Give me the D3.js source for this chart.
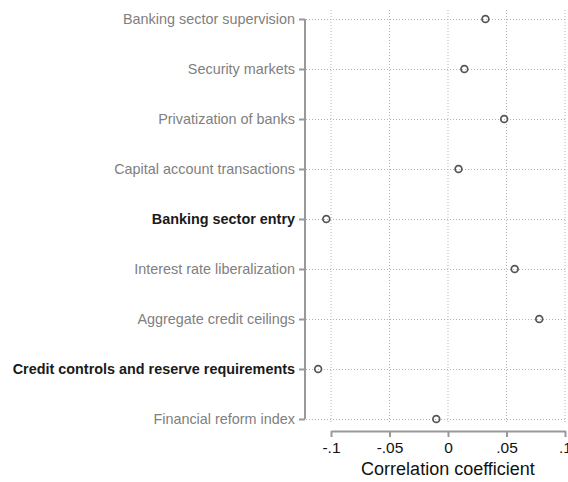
<!DOCTYPE html>
<html>
<head>
<meta charset="utf-8">
<script src="https://d3js.org/d3.v7.min.js"></script>
<style>
  html, body { margin: 0; padding: 0; background: #fff; }
  svg { display: block; font-family: "Liberation Sans", Arial, Helvetica, sans-serif; }
</style>
</head>
<body>
<svg id="chart" width="568" height="482"></svg>
<script>
// Financial reform components and their correlation coefficients
const categories = [
  "Banking sector supervision",
  "Security markets",
  "Privatization of banks",
  "Capital account transactions",
  "Banking sector entry",
  "Interest rate liberalization",
  "Aggregate credit ceilings",
  "Credit controls and reserve requirements",
  "Financial reform index"
];
const correlations = [0.032, 0.014, 0.048, 0.009, -0.104, 0.057, 0.078, -0.111, -0.010];
const boldCategories = ["Banking sector entry", "Credit controls and reserve requirements"];
const xTicks = [-0.1, -0.05, 0, 0.05, 0.1];
const xTickLabels = ["-.1", "-.05", "0", ".05", ".1"];
const xTitle = "Correlation coefficient";

const svg = d3.select("#chart");
const rows = categories.map((c, i) => ({ name: c, value: correlations[i] }));

const x = d3.scaleLinear().domain([-0.1, 0.1]).range([331, 565]);
const y = d3.scalePoint().domain(categories).range([19, 419]);

const gridColor = "#b4b4b4";

// vertical gridlines
svg.append("g").selectAll("line").data(xTicks).join("line")
  .attr("x1", d => x(d)).attr("x2", d => x(d))
  .attr("y1", 10).attr("y2", 424)
  .attr("stroke", gridColor).attr("stroke-width", 1)
  .attr("stroke-dasharray", "1,2");

// horizontal gridlines
svg.append("g").selectAll("line").data(categories).join("line")
  .attr("x1", 306).attr("x2", 566)
  .attr("y1", d => y(d) + 0.5).attr("y2", d => y(d) + 0.5)
  .attr("stroke", gridColor).attr("stroke-width", 1)
  .attr("stroke-dasharray", "1,2");

// y axis
const yAxis = svg.append("g").attr("transform", "translate(305,0)")
  .call(d3.axisLeft(y).tickSize(6).tickPadding(4));
yAxis.select(".domain").attr("d", `M0,${y(categories[0])}V${y(categories[categories.length - 1])}`)
  .attr("stroke", "#999").attr("stroke-width", 2);
yAxis.selectAll(".tick line").attr("stroke", "#999").attr("stroke-width", 2);
yAxis.selectAll(".tick text")
  .attr("font-size", 14.4)
  .attr("font-weight", d => boldCategories.includes(d) ? "bold" : "normal")
  .attr("fill", d => boldCategories.includes(d) ? "#1a1a1a" : "#808080");

// x axis
const xAxis = svg.append("g").attr("transform", "translate(0,431)")
  .call(d3.axisBottom(x).tickValues(xTicks).tickFormat((d, i) => xTickLabels[i])
    .tickSize(6).tickSizeOuter(0).tickPadding(5));
xAxis.select(".domain").attr("stroke", "#999").attr("stroke-width", 2);
xAxis.selectAll(".tick line").attr("stroke", "#999").attr("stroke-width", 2);
xAxis.selectAll(".tick text").attr("font-size", 15.5).attr("fill", "#111");

svg.append("text")
  .attr("x", x(0)).attr("y", 475)
  .attr("text-anchor", "middle")
  .attr("font-size", 18).attr("fill", "#111")
  .text(xTitle);

// points
svg.append("g").selectAll("circle").data(rows).join("circle")
  .attr("cx", d => x(d.value)).attr("cy", d => y(d.name))
  .attr("r", 3.4)
  .attr("fill", "none")
  .attr("stroke", "#555").attr("stroke-width", 1.7);
</script>
</body>
</html>
